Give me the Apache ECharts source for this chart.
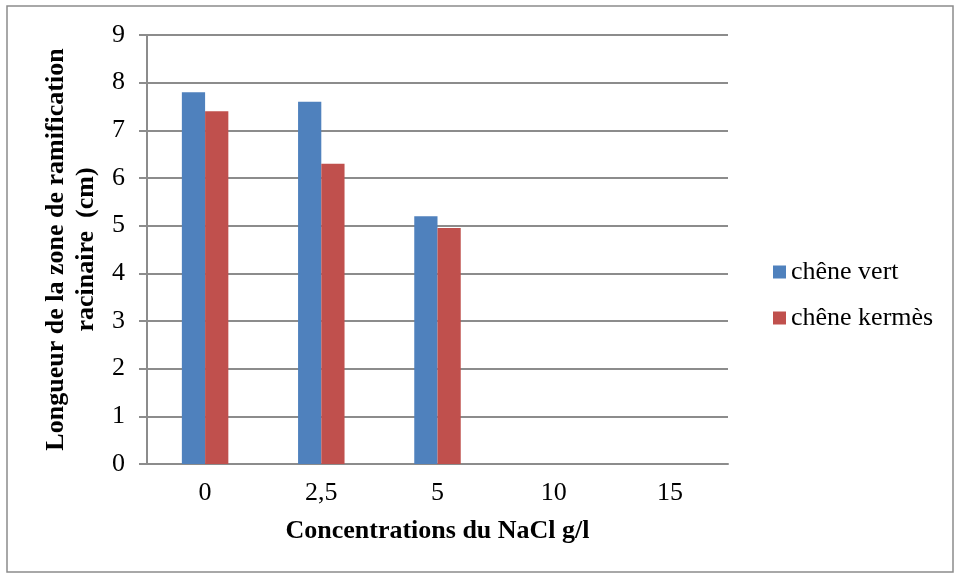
<!DOCTYPE html>
<html><head><meta charset="utf-8">
<script src="https://cdn.jsdelivr.net/npm/echarts@6/dist/echarts.min.js"></script>
<style>html,body{margin:0;padding:0;background:#fff}#c{width:956px;height:578px}</style>
</head><body><div id="c"></div>
<script>
const categories = ['0', '2,5', '5', '10', '15'];
const chVert = [7.8, 7.6, 5.2, 0, 0];
const chKermes = [7.4, 6.3, 4.95, 0, 0];
const yTicks = {min: 0, max: 9, interval: 1};

const chart = echarts.init(document.getElementById('c'));
const font = '"Liberation Serif", "Times New Roman", serif';
chart.setOption({
  animation: false,
  textStyle: {fontFamily: font},
  graphic: [{type: 'rect', shape: {x: 7, y: 6, width: 946, height: 566}, style: {fill: 'none', stroke: '#8c8c8c', lineWidth: 1.5}, silent: true}],
  grid: {left: 147, right: 228, top: 35, bottom: 114},
  legend: {
    orient: 'vertical', left: 768, top: 254, itemWidth: 13, itemHeight: 13, itemGap: 20,
    icon: 'rect', textStyle: {fontFamily: font, fontSize: 26, color: '#000', lineHeight: 26},
    data: ['chêne vert', 'chêne kermès']
  },
  xAxis: {
    type: 'category', data: categories,
    name: 'Concentrations du NaCl g/l', nameLocation: 'middle', nameGap: 54,
    nameTextStyle: {fontFamily: font, fontSize: 26, fontWeight: 'bold', color: '#000'},
    axisLine: {lineStyle: {color: '#8c8c8c', width: 2}},
    axisTick: {show: false},
    axisLabel: {fontFamily: font, fontSize: 26, color: '#000', margin: 16}
  },
  yAxis: {
    type: 'value', min: yTicks.min, max: yTicks.max, interval: yTicks.interval,
    name: 'Longueur de la zone de ramification\nracinaire  (cm)', nameLocation: 'middle', nameGap: 45, nameRotate: 90,
    nameTextStyle: {fontFamily: font, fontSize: 26, fontWeight: 'bold', color: '#000', lineHeight: 30},
    axisLine: {show: true, lineStyle: {color: '#8c8c8c', width: 2}},
    axisTick: {show: true, length: 8, lineStyle: {color: '#8c8c8c', width: 2}},
    splitLine: {lineStyle: {color: '#8c8c8c', width: 2}},
    axisLabel: {fontFamily: font, fontSize: 26, color: '#000', margin: 22}
  },
  series: [
    {name: 'chêne vert', type: 'bar', data: chVert, barGap: '0%', barCategoryGap: '60%', itemStyle: {color: '#4f81bd'}},
    {name: 'chêne kermès', type: 'bar', data: chKermes, itemStyle: {color: '#c0504d'}}
  ]
});
</script></body></html>
